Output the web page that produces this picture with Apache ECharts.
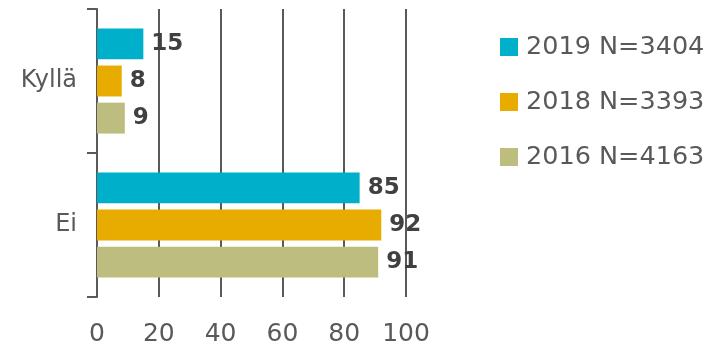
<!DOCTYPE html>
<html><head><meta charset="utf-8">
<script src="https://cdn.jsdelivr.net/npm/echarts@6/dist/echarts.min.js"></script>
<style>html,body{margin:0;padding:0;background:#fff}#c{width:712px;height:348px}</style>
</head><body><div id="c"></div>
<script>
const categories = ['Kyllä', 'Ei'];
const seriesNames = ['2019 N=3404', '2018 N=3393', '2016 N=4163'];
const values2019 = [15, 85];
const values2018 = [8, 92];
const values2016 = [9, 91];
const xTicks = [0, 20, 40, 60, 80, 100];

const colors = ['#00B0CA', '#E8AC00', '#BDBD80'];
const allValues = [values2019, values2018, values2016];
const FONT = 'DejaVu Sans';

const chart = echarts.init(document.getElementById('c'));
chart.setOption({
  animation: false,
  grid: { left: 97, right: 306, top: 9, bottom: 51, containLabel: false },
  legend: {
    orient: 'vertical', left: 495, top: 29, itemWidth: 18, itemHeight: 18, itemGap: 29,
    icon: 'rect',
    textStyle: { fontFamily: FONT, fontSize: 25.5, color: '#595959', padding: [0,0,0,3] },
    data: seriesNames
  },
  xAxis: {
    type: 'value', min: xTicks[0], max: xTicks[xTicks.length-1], interval: 20,
    axisLine: { show: false }, axisTick: { show: false },
    splitLine: { show: true, lineStyle: { color: '#595959', width: 2 } },
    axisLabel: { fontFamily: FONT, fontSize: 25, color: '#595959', margin: 25 }
  },
  yAxis: {
    type: 'category', data: categories, inverse: true,
    axisLine: { show: true, lineStyle: { color: '#595959', width: 2 } },
    axisTick: { show: true, length: 10, lineStyle: { color: '#595959', width: 2 } },
    axisLabel: { fontFamily: FONT, fontSize: 24, color: '#595959', margin: 20 }
  },
  series: seriesNames.map((n, i) => ({
    name: n, type: 'bar', data: allValues[i],
    itemStyle: { color: colors[i] },
    barGap: '20%', barCategoryGap: '27%',
    label: { show: true, position: 'right', distance: 8, fontFamily: FONT, fontWeight: 'bold', fontSize: 23, color: '#404040' }
  }))
});
</script></body></html>
